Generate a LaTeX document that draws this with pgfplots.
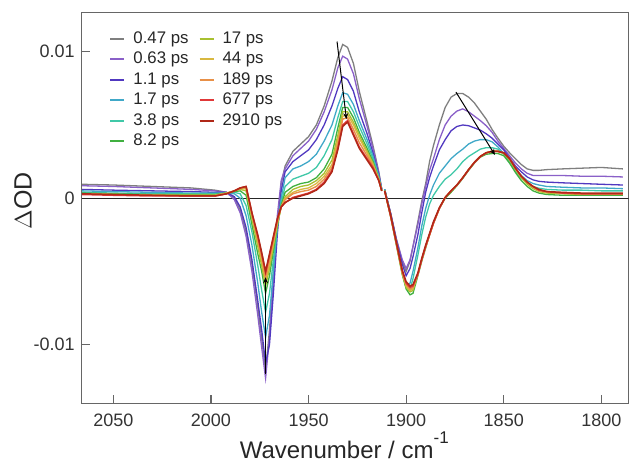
\documentclass[border=0pt]{standalone}
\usepackage{fontspec}
\setmainfont{Liberation Sans}
\usepackage{pgfplots}
\usepackage{pgfplotstable}
\pgfplotsset{compat=1.18}
\usetikzlibrary{arrows.meta}
\definecolor{cA}{HTML}{7F7F7F}
\definecolor{cB}{HTML}{8A60C8}
\definecolor{cC}{HTML}{5038C0}
\definecolor{cD}{HTML}{40A8C8}
\definecolor{cE}{HTML}{40C8A8}
\definecolor{cF}{HTML}{40B040}
\definecolor{cG}{HTML}{A8C030}
\definecolor{cH}{HTML}{D8B840}
\definecolor{cI}{HTML}{E89048}
\definecolor{cJ}{HTML}{E03838}
\definecolor{cK}{HTML}{B02818}

\pgfplotstableread{
x      G      P      B      T      C      Gr     YG     Y      O      R      DR
2066   0.95   0.85   0.60   0.50   0.40   0.35   0.30   0.30   0.30   0.25   0.30
2050   0.90   0.80   0.55   0.45   0.35   0.30   0.25   0.25   0.25   0.20   0.25
2030   0.80   0.70   0.50   0.40   0.30   0.25   0.20   0.20   0.20   0.15   0.20
2010   0.70   0.60   0.45   0.35   0.30   0.25   0.20   0.20   0.15   0.15   0.15
1998   0.55   0.50   0.40   0.35   0.30   0.25   0.20   0.20   0.15   0.15   0.15
1992   0.40   0.40   0.40   0.35   0.35   0.35   0.35   0.35   0.30   0.30   0.30
1988   0.00  -0.10   0.10   0.30   0.40   0.45   0.50   0.50   0.50   0.50   0.50
1985  -0.80  -1.00  -0.60   0.00   0.30   0.50   0.60   0.65   0.70   0.70   0.70
1982  -2.30  -2.60  -2.00  -1.20  -0.50   0.20   0.50   0.65   0.75   0.80   0.80
1979  -4.50  -5.00  -4.20  -3.20  -2.30  -1.80  -1.40  -1.20  -1.10  -1.00  -1.00
1976  -7.40  -8.00  -7.00  -5.80  -4.60  -3.80  -3.30  -3.00  -2.80  -2.60  -2.50
1974  -9.60 -10.20  -9.00  -7.80  -6.30  -5.00  -4.60  -4.30  -4.00  -3.80  -3.70
1972 -11.80 -12.30 -11.30  -9.50  -7.80  -6.50  -6.00  -5.70  -5.40  -5.10  -5.00
1970  -9.00  -9.50 -10.00  -8.00  -6.50  -5.30  -4.80  -4.50  -4.20  -3.90  -3.80
1968  -5.00  -5.50  -6.50  -5.00  -4.20  -3.60  -3.30  -3.10  -2.90  -2.70  -2.60
1966  -1.80  -1.20  -2.50  -2.00  -2.00  -1.90  -1.80  -1.70  -1.60  -1.50  -1.40
1964   1.00   1.20   0.50   0.00  -0.30  -0.50  -0.60  -0.60  -0.60  -0.60  -0.60
1962   2.20   2.00   1.80   1.40   0.80   0.40   0.10   0.00  -0.10  -0.30  -0.30
1958   3.20   2.90   2.50   2.00   1.30   0.80   0.60   0.40   0.30   0.05   0.00
1954   3.70   3.40   2.90   2.20   1.50   1.00   0.80   0.60   0.45   0.20   0.15
1950   4.20   3.90   3.30   2.50   1.70   1.10   0.90   0.70   0.55   0.35   0.30
1946   5.00   4.70   4.00   3.00   2.10   1.40   1.20   1.00   0.80   0.60   0.55
1942   6.30   5.90   5.00   3.90   2.90   2.00   1.70   1.50   1.30   1.10   1.00
1938   8.00   7.40   6.30   5.00   4.00   3.00   2.60   2.30   2.10   1.90   1.80
1935   9.60   8.90   7.50   6.30   5.50   4.80   4.30   4.00   3.70   3.40   3.30
1932.5 10.50  9.70   8.30   7.20   6.60   6.20   5.90   5.60   5.40   5.00   4.90
1930  10.30   9.50   8.10   7.10   6.60   6.20   5.90   5.70   5.50   5.30   5.20
1927   9.20   8.50   7.30   6.40   5.90   5.50   5.20   5.00   4.70   4.40   4.30
1924   7.30   6.80   5.90   5.30   4.90   4.50   4.30   4.10   3.80   3.50   3.40
1920   5.20   4.90   4.40   4.00   3.70   3.40   3.20   3.10   2.90   2.70   2.60
1917   3.60   3.40   3.10   2.90   2.70   2.50   2.40   2.30   2.20   2.10   2.00
1914   1.80   1.70   1.60   1.50   1.40   1.30   1.30   1.30   1.20   1.20   1.20
1912.5 0.60   0.60   0.60   0.60   0.60   0.50   0.50   0.50   0.50   0.50   0.50
1911.7 nan    nan    nan    nan    nan    nan    nan    nan    nan    nan    nan
1911   0.60   0.60   0.60   0.60   0.60   0.50   0.50   0.50   0.50   0.50   0.50
1908  -1.00  -1.00  -1.00  -1.10  -1.20  -1.20  -1.20  -1.20  -1.20  -1.20  -1.10
1905  -2.80  -2.80  -2.90  -3.00  -3.10  -3.20  -3.20  -3.10  -3.10  -3.10  -3.00
1902  -4.30  -4.20  -4.50  -5.00  -5.10  -5.20  -5.20  -5.10  -5.00  -5.00  -4.90
1900  -5.00  -4.80  -5.30  -6.00  -6.10  -6.20  -6.10  -6.00  -5.90  -5.80  -5.70
1898  -4.30  -4.20  -4.80  -5.80  -6.20  -6.60  -6.40  -6.30  -6.20  -6.10  -6.00
1896.5 -3.30 -3.30  -4.00  -5.00  -5.50  -6.50  -6.30  -6.20  -6.10  -6.00  -5.90
1894  -1.60  -1.80  -2.50  -3.40  -3.90  -5.30  -5.20  -5.20  -5.20  -5.20  -5.10
1892  -0.20  -0.40  -1.00  -1.90  -2.50  -4.30  -4.20  -4.20  -4.20  -4.20  -4.10
1890   1.00   0.80   0.40  -0.70  -1.30  -3.40  -3.30  -3.30  -3.30  -3.30  -3.20
1888   2.50   1.90   1.40   0.20  -0.40  -2.50  -2.50  -2.50  -2.50  -2.50  -2.40
1886   3.60   2.70   2.20   0.90   0.20  -1.70  -1.70  -1.70  -1.70  -1.70  -1.60
1883   5.00   4.00   3.30   1.70   0.80  -0.70  -0.70  -0.70  -0.70  -0.70  -0.65
1880   6.20   5.00   4.00   2.20   1.30   0.00   0.05   0.05   0.05   0.05   0.05
1877   6.90   5.60   4.60   2.70   1.60   0.40   0.45   0.50   0.50   0.50   0.50
1874   7.15   5.95   4.90   3.05   2.00   0.85   0.90   0.90   0.90   0.90   0.90
1871   7.15   6.10   5.00   3.35   2.50   1.35   1.40   1.40   1.40   1.40   1.40
1868   6.90   5.90   4.95   3.70   2.85   1.90   1.95   1.95   1.95   1.95   1.95
1865   6.50   5.60   4.80   3.90   3.10   2.40   2.45   2.45   2.45   2.45   2.45
1862   5.95   5.30   4.65   4.00   3.35   2.80   2.85   2.85   2.85   2.85   2.85
1859   5.40   4.95   4.40   4.00   3.45   3.00   3.10   3.10   3.10   3.10   3.10
1856   4.70   4.50   4.10   3.85   3.45   3.05   3.20   3.20   3.20   3.20   3.20
1853   4.10   3.90   3.70   3.50   3.35   3.05   3.20   3.20   3.20   3.20   3.20
1850   3.55   3.40   3.30   3.05   3.00   2.90   3.05   3.10   3.10   3.10   3.10
1847   3.10   2.90   2.75   2.55   2.40   2.40   2.60   2.70   2.70   2.70   2.70
1844   2.70   2.40   2.20   2.00   1.85   1.75   1.95   2.00   2.05   2.05   2.05
1841   2.30   2.00   1.80   1.55   1.35   1.20   1.40   1.45   1.50   1.50   1.50
1838   2.00   1.70   1.45   1.20   1.05   0.80   0.95   1.05   1.10   1.10   1.10
1835   1.90   1.55   1.25   1.00   0.80   0.50   0.65   0.75   0.80   0.80   0.80
1832   1.90   1.55   1.15   0.90   0.68   0.35   0.45   0.50   0.55   0.55   0.60
1828   1.95   1.55   1.10   0.80   0.60   0.25   0.35   0.40   0.45   0.45   0.45
1820   2.00   1.55   1.05   0.75   0.55   0.20   0.30   0.35   0.35   0.35   0.40
1810   2.05   1.50   1.00   0.70   0.55   0.20   0.25   0.30   0.30   0.30   0.35
1800   2.10   1.50   0.95   0.70   0.50   0.20   0.25   0.30   0.30   0.30   0.35
1789   2.00   1.45   0.90   0.65   0.50   0.20   0.25   0.30   0.30   0.30   0.35
}\spectra

\begin{document}
\begin{tikzpicture}
\useasboundingbox (-40.85pt,-30.35pt) rectangle (275.15pt,201.65pt);
\begin{axis}[
  at={(0,0)}, anchor=south west,
  scale only axis, width=273.5pt, height=195.3pt,
  x dir=reverse,
  xmin=1786, xmax=2066.2,
  ymin=-14.01, ymax=12.67,
  unbounded coords=jump,
  axis line style={draw=black!60, line width=0.6pt},
  tick align=inside,
  xtick pos=bottom, ytick pos=left,
  major tick length=4pt,
  tick style={draw=black!60, line width=0.6pt},
  xtick={1800,1850,1900,1950,2000,2050},
  xticklabels={1800,1850,1900,1950,2000,2050},
  ytick={-10,0,10},
  yticklabels={-0.01,0,0.01},
  ticklabel style={font=\fontsize{9}{10.5}\selectfont, text=black!80},
  xticklabel style={yshift=-2pt},
  xlabel={Wavenumber / cm\raisebox{1.2ex}{\fontsize{8.5}{10}\selectfont -1}},
  xlabel style={font=\fontsize{12}{14}\selectfont, text=black!85, at={(axis description cs:0.48,0)}, anchor=base, yshift=-27.8pt},
  ylabel={$\Delta$OD},
  ylabel style={font=\fontsize{12.5}{14}\selectfont, text=black!85, at={(axis description cs:-0.1073,0.518)}, anchor=center},
  legend columns=6,
  transpose legend,
  legend cell align=left,
  legend image code/.code={\draw[#1, line width=1pt] (0pt,0pt) -- (7pt,0pt);},
  legend style={draw=none, fill=none, inner sep=0pt,
    at={(axis description cs:0.05,0.956)}, anchor=north west,
    font=\fontsize{8.4}{10}\selectfont, text=black!85,
    nodes={text height=6pt, text depth=1.6pt, inner sep=0.5pt},
    row sep=1.65pt,
    /tikz/every odd column/.style={column sep=3.5pt},
    /tikz/column 2/.style={column sep=4.5pt}},
]
\addplot[black!85, line width=0.5pt, forget plot] coordinates {(1786,0) (2066.2,0)};
\addplot[cA, line width=0.65pt] table[x=x, y=G]{\spectra}; \addlegendentry{0.47 ps}
\addplot[cB, line width=0.65pt] table[x=x, y=P]{\spectra}; \addlegendentry{0.63 ps}
\addplot[cC, line width=0.65pt] table[x=x, y=B]{\spectra}; \addlegendentry{1.1 ps}
\addplot[cD, line width=0.65pt] table[x=x, y=T]{\spectra}; \addlegendentry{1.7 ps}
\addplot[cE, line width=0.65pt] table[x=x, y=C]{\spectra}; \addlegendentry{3.8 ps}
\addplot[cF, line width=0.65pt] table[x=x, y=Gr]{\spectra}; \addlegendentry{8.2 ps}
\addplot[cG, line width=0.65pt] table[x=x, y=YG]{\spectra}; \addlegendentry{17 ps}
\addplot[cH, line width=0.65pt] table[x=x, y=Y]{\spectra}; \addlegendentry{44 ps}
\addplot[cI, line width=0.7pt] table[x=x, y=O]{\spectra}; \addlegendentry{189 ps}
\addplot[cJ, line width=0.75pt] table[x=x, y=R]{\spectra}; \addlegendentry{677 ps}
\addplot[cK, line width=0.75pt] table[x=x, y=DR]{\spectra}; \addlegendentry{2910 ps}
\addplot[black, line width=0.5pt, -{Stealth[length=3pt,width=2.5pt]}, forget plot] coordinates {(1972,-12.0) (1972,-5.4)};
\addplot[black, line width=0.5pt, -{Stealth[length=3pt,width=2.5pt]}, forget plot] coordinates {(1935.4,10.7) (1930.6,5.4)};
\addplot[black, line width=0.5pt, -{Stealth[length=3pt,width=2.5pt]}, forget plot] coordinates {(1874.5,7.25) (1854.5,2.95)};
\end{axis}
\end{tikzpicture}
\end{document}
